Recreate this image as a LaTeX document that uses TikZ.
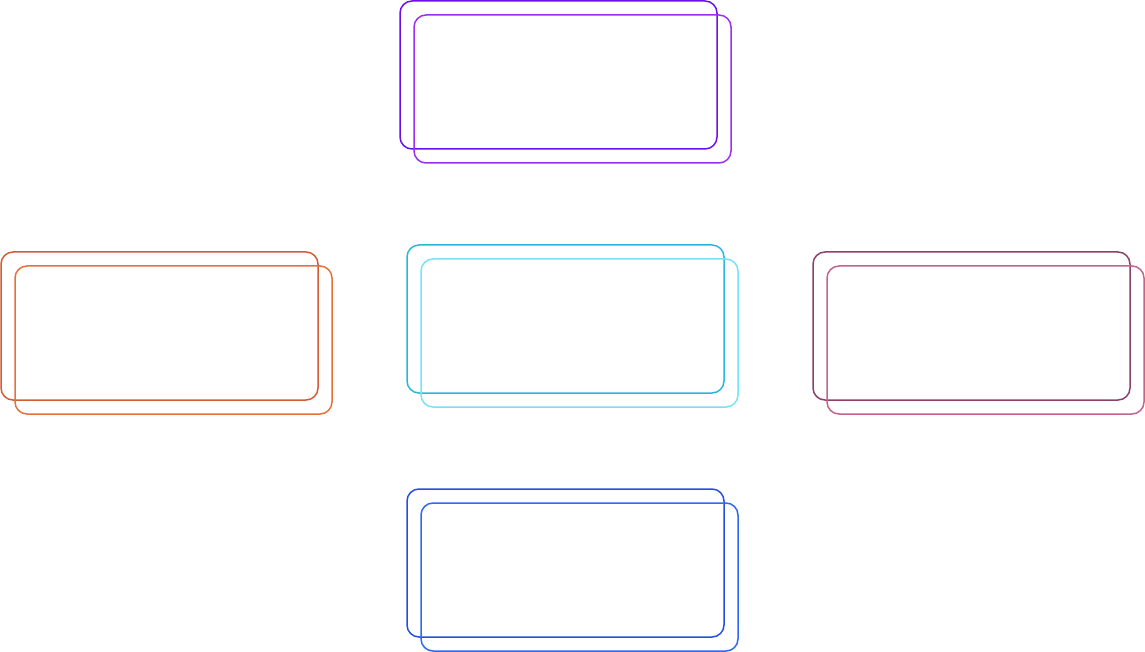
\documentclass[tikz,border=0pt]{standalone}
\begin{document}
\begin{tikzpicture}[x=1pt,y=-1pt,
  card/.style={draw, rectangle, rounded corners=12pt, line width=1.5pt, minimum width=317pt, minimum height=148pt, inner sep=0pt}]
\definecolor{vioA}{HTML}{6A10E8}
\definecolor{vioB}{HTML}{9B30F0}
\definecolor{orA}{HTML}{D45B36}
\definecolor{orB}{HTML}{E5703D}
\definecolor{cyA}{HTML}{2AB7DD}
\definecolor{cyB}{HTML}{78E1F6}
\definecolor{maA}{HTML}{8C416A}
\definecolor{maB}{HTML}{C5638F}
\definecolor{blA}{HTML}{2450E0}
\definecolor{blB}{HTML}{3068F0}
\useasboundingbox (0,0) rectangle (1145,652);
% top
\node[card, draw=vioA] (topA) at (558.5,75) {};
\node[card, draw=vioB] (topB) at (572.5,89) {};
% left
\node[card, draw=orA] (leftA) at (159.5,326) {};
\node[card, draw=orB] (leftB) at (173.5,340) {};
% center
\node[card, draw=cyA] (midA) at (565.5,319) {};
\node[card, draw=cyB] (midB) at (579.5,333) {};
% right
\node[card, draw=maA] (rightA) at (971.5,326) {};
\node[card, draw=maB] (rightB) at (985.5,340) {};
% bottom
\node[card, draw=blA] (botA) at (565.5,563) {};
\node[card, draw=blB] (botB) at (579.5,577) {};
\end{tikzpicture}
\end{document}
